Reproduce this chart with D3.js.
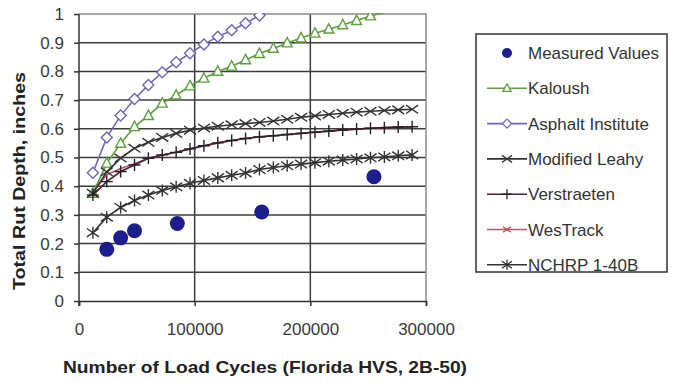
<!DOCTYPE html>
<html>
<head>
<meta charset="utf-8">
<script src="https://cdn.jsdelivr.net/npm/d3@7/dist/d3.min.js"></script>
<style>
  html, body { margin: 0; padding: 0; background: #fff; }
  svg { display: block; font-family: "Liberation Sans", Arial, sans-serif; }
</style>
</head>
<body>
<svg id="chart" width="673" height="383"></svg>
<script>
// Load cycles at which the rutting models are evaluated
const cycles = [12000, 24000, 36000, 48000, 60000, 72000, 84000, 96000, 108000, 120000,
  132000, 144000, 156000, 168000, 180000, 192000, 204000, 216000, 228000, 240000,
  252000, 264000, 276000, 288000];

// Measured rut depth on the HVS section
const measuredCycles = [24000, 36000, 48000, 85000, 158000, 255000];
const measuredDepth = [0.18, 0.22, 0.245, 0.27, 0.31, 0.433];

// Predicted total rut depth (inches) for each model
const kaloush = [0.375, 0.48, 0.549, 0.607, 0.646, 0.689, 0.717, 0.749, 0.776, 0.800, 0.818,
  0.840, 0.862, 0.880, 0.899, 0.916, 0.933, 0.947, 0.962, 0.977, 0.993, 1.005];
const asphaltInstitute = [0.447, 0.570, 0.646, 0.704, 0.753, 0.797, 0.832, 0.863, 0.894,
  0.921, 0.943, 0.968, 0.995, 1.02];
const modifiedLeahy = [0.375, 0.45, 0.498, 0.532, 0.553, 0.570, 0.584, 0.595, 0.603, 0.609,
  0.614, 0.618, 0.622, 0.627, 0.633, 0.640, 0.645, 0.650, 0.654, 0.658, 0.661, 0.664, 0.666, 0.668];
const verstraeten = [0.369, 0.416, 0.451, 0.474, 0.497, 0.509, 0.518, 0.530, 0.541, 0.551,
  0.559, 0.566, 0.572, 0.576, 0.580, 0.584, 0.588, 0.592, 0.596, 0.599, 0.602, 0.604, 0.606, 0.607];
const wesTrack = [0.38, 0.44, 0.462, 0.478, 0.497, 0.509, 0.518, 0.530, 0.541, 0.551,
  0.559, 0.566, 0.572, 0.576, 0.580, 0.584, 0.588, 0.592, 0.596, 0.599, 0.602, 0.604, 0.606, 0.607];
const nchrp = [0.238, 0.292, 0.326, 0.350, 0.369, 0.385, 0.398, 0.410, 0.420, 0.429, 0.438,
  0.446, 0.458, 0.465, 0.471, 0.477, 0.482, 0.487, 0.491, 0.495, 0.499, 0.502, 0.506, 0.509];

const xTicks = [0, 100000, 200000, 300000];
const yTicks = [0, 0.1, 0.2, 0.3, 0.4, 0.5, 0.6, 0.7, 0.8, 0.9, 1];

const legendLabels = ["Measured Values", "Kaloush", "Asphalt Institute", "Modified Leahy",
  "Verstraeten", "WesTrack", "NCHRP 1-40B"];

const svg = d3.select("#chart");
const plot = { left: 79, right: 426, top: 14, bottom: 301 };

const x = d3.scaleLinear().domain([0, 300000]).range([plot.left, plot.right]);
const y = d3.scaleLinear().domain([0, 1]).range([plot.bottom, plot.top]);

// clip region for model curves that run past the top of the chart
svg.append("defs").append("clipPath").attr("id", "plotClip")
  .append("rect").attr("x", plot.left).attr("y", plot.top - 1)
  .attr("width", plot.right - plot.left).attr("height", plot.bottom - plot.top + 1);

// gridlines
const grid = svg.append("g");
grid.selectAll("line.h").data(yTicks.filter(d => d > 0 && d < 1)).join("line")
  .attr("x1", plot.left).attr("x2", plot.right)
  .attr("y1", d => y(d)).attr("y2", d => y(d))
  .attr("stroke", "#3c3c3c").attr("stroke-width", 1.5);
grid.selectAll("line.v").data(xTicks.filter(d => d > 0 && d < 300000)).join("line")
  .attr("x1", d => x(d)).attr("x2", d => x(d))
  .attr("y1", plot.top).attr("y2", plot.bottom)
  .attr("stroke", "#3c3c3c").attr("stroke-width", 1.5);
// plot frame (top and right)
grid.append("path")
  .attr("d", `M${plot.left},${plot.top}H${plot.right}V${plot.bottom}`)
  .attr("fill", "none").attr("stroke", "#8a8a8a").attr("stroke-width", 1.5);

// axes
const xAxis = svg.append("g").attr("transform", `translate(0,${plot.bottom})`)
  .call(d3.axisBottom(x).tickValues(xTicks).tickFormat(d3.format("d")).tickSize(5).tickPadding(17));
const yAxis = svg.append("g").attr("transform", `translate(${plot.left},0)`)
  .call(d3.axisLeft(y).tickValues(yTicks).tickFormat(d => d === 0 || d === 1 ? String(d) : d3.format(".1f")(d)).tickSize(5).tickPadding(10));
[xAxis, yAxis].forEach(a => {
  a.select(".domain").attr("stroke", "#333").attr("stroke-width", 1.5);
  a.selectAll(".tick line").attr("stroke", "#333").attr("stroke-width", 1.5);
  a.selectAll(".tick text").attr("fill", "#3a3a3a").attr("font-size", 17)
    .attr("font-family", "'Liberation Sans', Arial, sans-serif");
});
yAxis.select(".domain").attr("d", `M0,${plot.bottom + 5}V${plot.top}`);

// axis titles
svg.append("text").attr("x", 265).attr("y", 373).attr("text-anchor", "middle")
  .attr("font-weight", "bold").attr("font-size", 17).attr("fill", "#222")
  .attr("textLength", 404).attr("lengthAdjust", "spacingAndGlyphs")
  .text("Number of Load Cycles (Florida HVS, 2B-50)");
svg.append("text").attr("transform", "translate(25,181) rotate(-90)")
  .attr("text-anchor", "middle").attr("font-weight", "bold").attr("font-size", 17)
  .attr("textLength", 218).attr("lengthAdjust", "spacingAndGlyphs")
  .attr("fill", "#222").text("Total Rut Depth, inches");

// marker shapes
function markerPath(kind, s) {
  switch (kind) {
    case "triangle": return `M0,${-s}L${s * 0.9},${s * 0.7}L${-s * 0.9},${s * 0.7}Z`;
    case "diamond": return `M0,${-s}L${s},0L0,${s}L${-s},0Z`;
    case "x": return `M${-s},${-s * 0.7}L${s},${s * 0.7}M${-s},${s * 0.7}L${s},${-s * 0.7}`;
    case "plus": return `M${-s},0H${s}M0,${-s}V${s}`;
    case "star": return `M${-s},${-s * 0.7}L${s},${s * 0.7}M${-s},${s * 0.7}L${s},${-s * 0.7}M0,${-s}V${s}`;
  }
}

const series = [
  { name: "Kaloush", values: kaloush, line: "#5e9e3e", mark: "triangle", mstroke: "#5e9e3e", fill: "#fff", size: 5.5, showMarks: true },
  { name: "Asphalt Institute", values: asphaltInstitute, line: "#7466b4", mark: "diamond", mstroke: "#7466b4", fill: "#fff", size: 5.5, showMarks: true },
  { name: "WesTrack", values: wesTrack, line: "#c4506a", mark: "x", mstroke: "#c0504d", fill: "none", size: 5, showMarks: false },
  { name: "Modified Leahy", values: modifiedLeahy, line: "#333", mark: "x", mstroke: "#333", fill: "none", size: 6, showMarks: true },
  { name: "Verstraeten", values: verstraeten, line: "#4a1e3c", mark: "plus", mstroke: "#222", fill: "none", size: 6, showMarks: true },
  { name: "NCHRP 1-40B", values: nchrp, line: "#333", mark: "star", mstroke: "#333", fill: "none", size: 6, showMarks: true }
];

const lineGen = d3.line().x((d, i) => x(cycles[i])).y(d => y(d));
const curves = svg.append("g").attr("clip-path", "url(#plotClip)");
series.forEach(s => {
  curves.append("path").datum(s.values).attr("d", lineGen)
    .attr("fill", "none").attr("stroke", s.line).attr("stroke-width", 1.6);
  if (s.showMarks) {
    curves.selectAll(null).data(s.values.filter(v => v <= 1)).join("path")
      .attr("transform", (d, i) => `translate(${x(cycles[i])},${y(d)})`)
      .attr("d", markerPath(s.mark, s.size))
      .attr("fill", s.fill).attr("stroke", s.mstroke).attr("stroke-width", 1.4);
  }
});

// measured points
svg.append("g").selectAll("circle").data(measuredDepth).join("circle")
  .attr("cx", (d, i) => x(measuredCycles[i])).attr("cy", d => y(d)).attr("r", 7.5)
  .attr("fill", "#1c1e8e");

// legend
const legend = svg.append("g");
legend.append("rect").attr("x", 476).attr("y", 34).attr("width", 191).attr("height", 238)
  .attr("fill", "#fff").attr("stroke", "#333").attr("stroke-width", 1.5);
const legendStyle = [null, series[0], series[1], series[3], series[4], series[2], series[5]];
legendLabels.forEach((label, i) => {
  const cy = 53 + i * 35.3;
  const g = legend.append("g");
  const st = legendStyle[i];
  if (!st) {
    g.append("circle").attr("cx", 507).attr("cy", cy).attr("r", 5).attr("fill", "#1c1e8e");
  } else {
    g.append("line").attr("x1", 487).attr("x2", 527).attr("y1", cy).attr("y2", cy)
      .attr("stroke", st.line).attr("stroke-width", 1.6);
    g.append("path").attr("transform", `translate(507,${cy})`)
      .attr("d", markerPath(st.mark, st.size - 1))
      .attr("fill", st.fill).attr("stroke", st.mstroke).attr("stroke-width", 1.3);
  }
  g.append("text").attr("x", 528).attr("y", cy + 6).attr("font-size", 17)
    .attr("fill", "#333").text(label);
});
</script>
</body>
</html>
